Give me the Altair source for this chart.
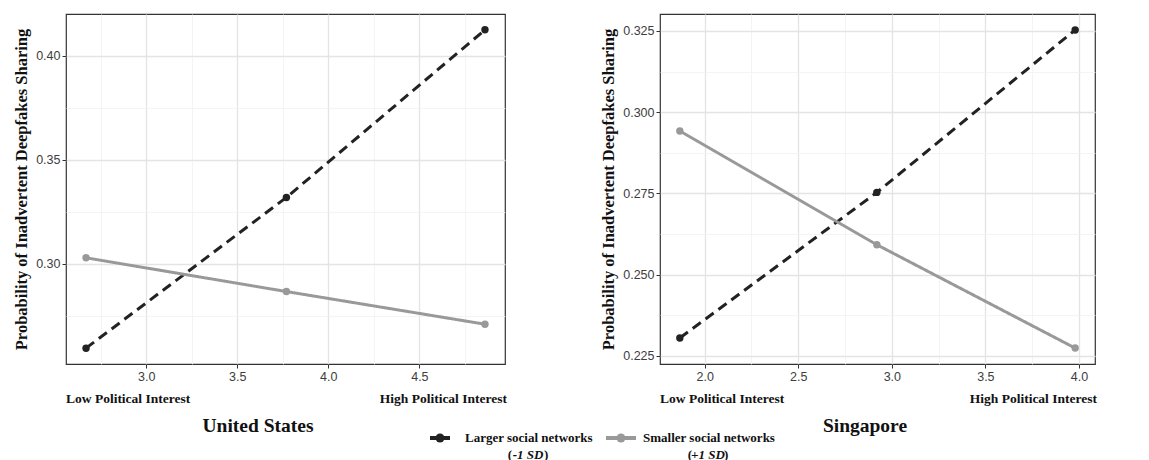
import altair as alt
import pandas as pd

# ---- data ----
series_names = ["Larger social networks", "Smaller social networks"]
series_sub = ["-1 SD", "+1 SD"]
panel_titles = ["United States", "Singapore"]
end_labels = ["Low Political Interest", "High Political Interest"]
y_title = "Probability of Inadvertent Deepfakes Sharing"

us_x = [2.67, 3.77, 4.86]
us_larger = [0.2595, 0.3319, 0.4124]
us_smaller = [0.3029, 0.2867, 0.2710]

sg_x = [1.867, 2.92, 3.98]
sg_larger = [0.2305, 0.2753, 0.3253]
sg_smaller = [0.2942, 0.2592, 0.2274]

us_x_ticks = [2.75, 3.0, 3.25, 3.5, 3.75, 4.0, 4.25, 4.5, 4.75]
us_y_ticks = [0.275, 0.30, 0.325, 0.35, 0.375, 0.40]
sg_x_ticks = [2.0, 2.25, 2.5, 2.75, 3.0, 3.25, 3.5, 3.75, 4.0]
sg_y_ticks = [0.225, 0.2375, 0.25, 0.2625, 0.275, 0.2875, 0.30, 0.3125, 0.325]

SERIF = "Liberation Serif"
SANS = "Liberation Sans"
COLORS = ["#222222", "#999999"]
H = 350


def major_test(mult):
    return f"abs(datum.value*{mult} - round(datum.value*{mult})) < 0.001"


def make_axis(values, mult, fmt, title=None):
    t = major_test(mult)
    kw = dict(
        values=values,
        labelExpr=f"{t} ? format(datum.value, '{fmt}') : ''",
        labelFont=SANS, labelFontSize=12.5, labelColor="#3d3d3d",
        labelPadding=2,
        tickColor="#333333", tickSize=4, tickWidth=1,
        tickOpacity={"condition": {"test": t, "value": 1}, "value": 0},
        gridColor={"condition": {"test": t, "value": "#e4e4e4"}, "value": "#f1f1f1"},
        gridWidth={"condition": {"test": t, "value": 1.3}, "value": 0.8},
        domain=False,
    )
    if title is None:
        kw["title"] = None
    else:
        kw.update(title=title, titleFont=SERIF, titleFontWeight="bold",
                  titleFontSize=16.5, titleColor="#111111", titlePadding=6)
    return alt.Axis(**kw)


def text_layer(txt, x, y, size, align="left", style="normal"):
    return alt.Chart(pd.DataFrame({"t": [txt]})).mark_text(
        font=SERIF, fontWeight="bold", fontSize=size, fontStyle=style,
        color="#111111", align=align, baseline="middle"
    ).encode(x=alt.value(x), y=alt.value(y), text="t:N")


def panel(xs, larger, smaller, xdom, ydom, xticks, yticks, ymult, yfmt,
          width, title, title_x):
    df = pd.DataFrame({
        "x": xs + xs,
        "y": larger + smaller,
        "g": [series_names[0]] * len(xs) + [series_names[1]] * len(xs),
    })
    xenc = alt.X("x:Q", scale=alt.Scale(domain=xdom, nice=False, zero=False),
                 axis=make_axis(xticks, 2, ".1f"))
    yenc = alt.Y("y:Q", scale=alt.Scale(domain=ydom, nice=False, zero=False),
                 axis=make_axis(yticks, ymult, yfmt, y_title))
    color = alt.Color("g:N", scale=alt.Scale(domain=series_names, range=COLORS), legend=None)
    dash = alt.StrokeDash("g:N", scale=alt.Scale(domain=series_names, range=[[10, 6], [1, 0]]),
                          legend=None)
    base = alt.Chart(df)
    lines = base.mark_line(strokeWidth=3).encode(x=xenc, y=yenc, color=color, strokeDash=dash,
                                                 detail="g:N")
    pts = base.mark_circle(size=55, opacity=1).encode(x=xenc, y=yenc, color=color)
    layers = [
        lines, pts,
        text_layer(end_labels[0], 0, 385, 13.5, "left"),
        text_layer(end_labels[1], width + 2, 385, 13.5, "right"),
        text_layer(title, title_x, 412, 19.5, "center"),
    ]
    return layers


left_layers = panel(us_x, us_larger, us_smaller, [2.56, 4.97], [0.2519, 0.4200],
                    us_x_ticks, us_y_ticks, 20, ".2f", 439, panel_titles[0], 192)
right_layers = panel(sg_x, sg_larger, sg_smaller, [1.761, 4.086], [0.2225, 0.3302],
                     sg_x_ticks, sg_y_ticks, 40, ".3f", 435, panel_titles[1], 205)

# legend drawn under the panels
leg = []
sym = [(364, 384), (540, 570)]
txt_x = [399, 577]
sub_c = [462, 642]
for i in range(2):
    one = alt.Chart(pd.DataFrame({"g": [series_names[i]]}))
    leg.append(one.mark_rule(strokeWidth=4, color=COLORS[i]).encode(
        x=alt.value(sym[i][0]), x2=alt.value(sym[i][1]), y=alt.value(424)))
    leg.append(one.mark_circle(size=80, opacity=1, color=COLORS[i]).encode(
        x=alt.value((sym[i][0] + sym[i][1]) / 2), y=alt.value(424)))
    leg.append(text_layer(series_names[i], txt_x[i], 424, 13, "left"))
    leg.append(text_layer(series_sub[i], sub_c[i], 441, 13, "center", "italic"))
    leg.append(text_layer("(", sub_c[i] - 16, 441, 13, "right"))
    leg.append(text_layer(")", sub_c[i] + 16, 441, 13, "left"))

left = alt.layer(*left_layers, *leg).properties(width=439, height=H)
right = alt.layer(*right_layers).properties(width=435, height=H)

chart = alt.hconcat(left, right, spacing=155, bounds="flush").configure(
    background="white"
).configure_view(
    stroke="#333333", strokeWidth=1.2
)

chart.save("out.html", embed_options={"renderer": "svg", "actions": False})
